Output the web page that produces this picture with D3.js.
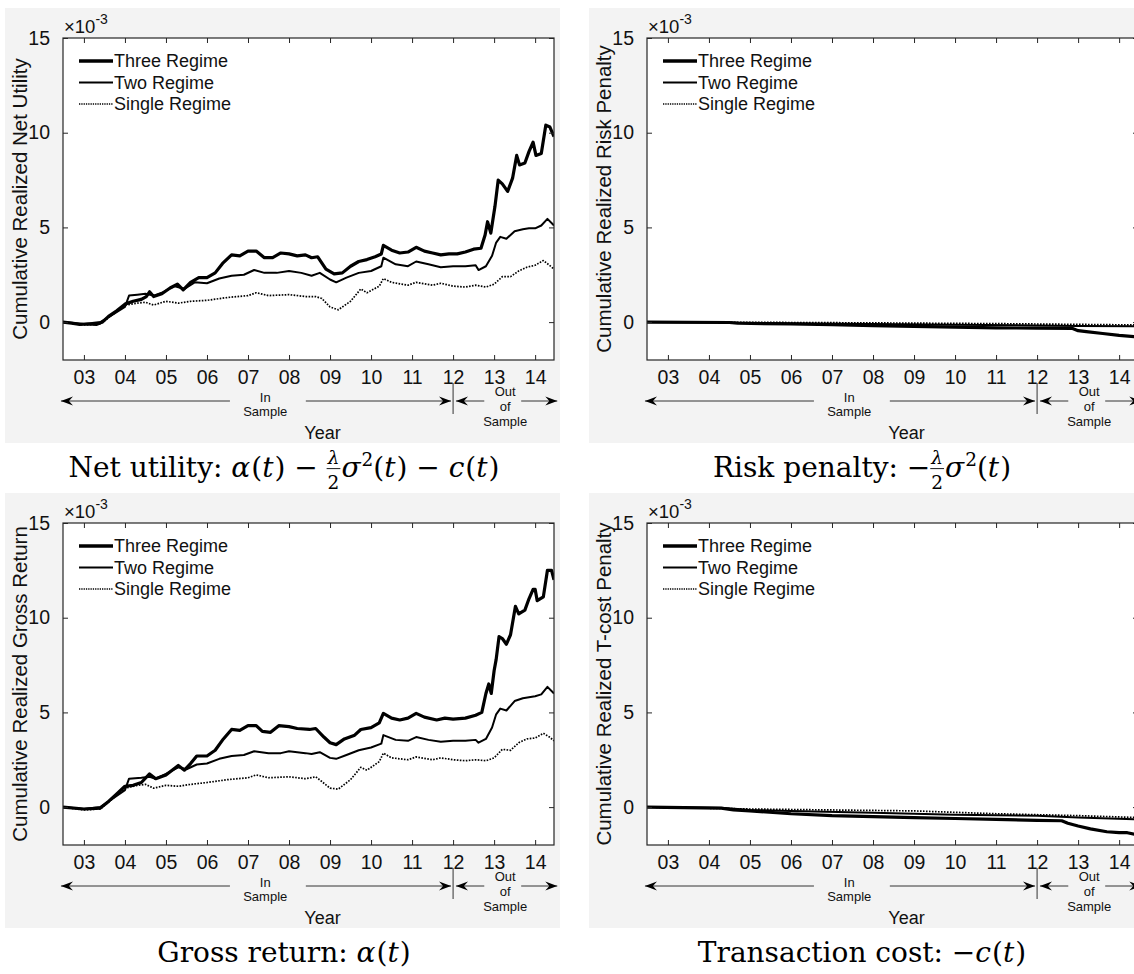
<!DOCTYPE html>
<html>
<head>
<meta charset="utf-8">
<script src="https://cdn.jsdelivr.net/npm/d3@7"></script>
<style>
  body { margin: 0; background: #fff; }
  text { font-family: "Liberation Sans", Arial, sans-serif; white-space: pre; }
  .cap text { font-family: "DejaVu Serif", "Liberation Serif", serif; }
</style>
</head>
<body>
<svg id="fig" width="1134" height="974"></svg>
<script>
// ---- data: [year, value (x1e-3)] ----
const netThree = [[2002.49,0],[2002.7,-0.05],[2002.9,-0.12],[2003.1,-0.1],[2003.3,-0.12],[2003.45,0.0],[2003.6,0.3],[2003.8,0.6],[2004.0,0.95],[2004.2,1.1],[2004.4,1.2],[2004.52,1.35],[2004.6,1.6],[2004.7,1.35],[2004.9,1.5],[2005.1,1.8],[2005.28,2.0],[2005.42,1.7],[2005.6,2.1],[2005.8,2.35],[2006.0,2.35],[2006.2,2.6],[2006.38,3.1],[2006.6,3.55],[2006.8,3.5],[2007.0,3.75],[2007.2,3.75],[2007.4,3.4],[2007.6,3.4],[2007.8,3.65],[2008.0,3.6],[2008.2,3.5],[2008.4,3.55],[2008.55,3.4],[2008.7,3.45],[2008.9,2.8],[2009.1,2.55],[2009.3,2.6],[2009.5,2.95],[2009.7,3.2],[2009.9,3.3],[2010.1,3.45],[2010.25,3.6],[2010.3,4.05],[2010.5,3.8],[2010.7,3.65],[2010.9,3.7],[2011.1,3.95],[2011.3,3.75],[2011.5,3.65],[2011.7,3.55],[2011.9,3.6],[2012.1,3.6],[2012.3,3.7],[2012.5,3.85],[2012.68,3.9],[2012.78,4.6],[2012.84,5.3],[2012.92,4.7],[2013.02,6.1],[2013.1,7.5],[2013.2,7.3],[2013.33,6.9],[2013.45,7.6],[2013.55,8.8],[2013.62,8.3],[2013.75,8.4],[2013.85,9.0],[2013.95,9.5],[2014.02,8.8],[2014.15,8.9],[2014.26,10.4],[2014.36,10.3],[2014.46,9.8]];
const netTwo = [[2002.49,0],[2003.0,-0.1],[2003.4,0.0],[2003.7,0.4],[2004.0,0.8],[2004.1,1.4],[2004.3,1.45],[2004.5,1.5],[2004.7,1.4],[2004.9,1.55],[2005.2,1.9],[2005.45,1.75],[2005.7,2.1],[2006.0,2.05],[2006.3,2.3],[2006.6,2.45],[2006.9,2.5],[2007.15,2.75],[2007.4,2.6],[2007.7,2.6],[2008.0,2.7],[2008.3,2.6],[2008.55,2.45],[2008.75,2.6],[2009.0,2.25],[2009.15,2.1],[2009.4,2.35],[2009.7,2.6],[2010.0,2.7],[2010.25,2.95],[2010.3,3.4],[2010.6,3.05],[2010.9,2.95],[2011.1,3.2],[2011.4,3.05],[2011.7,2.9],[2012.0,2.95],[2012.3,2.95],[2012.55,3.0],[2012.62,2.75],[2012.8,2.95],[2012.95,3.5],[2013.05,4.2],[2013.15,4.5],[2013.3,4.4],[2013.5,4.8],[2013.7,4.9],[2013.85,4.95],[2014.0,4.95],[2014.15,5.1],[2014.3,5.45],[2014.46,5.1]];
const netSingle = [[2002.49,0],[2003.0,-0.15],[2003.4,-0.1],[2003.7,0.4],[2004.0,0.9],[2004.3,1.0],[2004.5,1.05],[2004.7,0.9],[2005.0,1.1],[2005.3,1.0],[2005.6,1.1],[2006.0,1.15],[2006.5,1.3],[2007.0,1.4],[2007.2,1.55],[2007.5,1.4],[2008.0,1.45],[2008.4,1.35],[2008.65,1.35],[2008.8,1.25],[2009.0,0.8],[2009.2,0.65],[2009.5,1.1],[2009.75,1.75],[2009.9,1.55],[2010.2,1.9],[2010.3,2.3],[2010.5,2.1],[2010.9,1.95],[2011.1,2.1],[2011.5,1.95],[2011.7,2.05],[2012.0,1.9],[2012.3,1.85],[2012.55,1.95],[2012.8,1.85],[2013.0,2.0],[2013.2,2.4],[2013.4,2.4],[2013.6,2.7],[2013.8,2.9],[2014.0,3.0],[2014.2,3.25],[2014.35,3.0],[2014.46,2.8]];

const riskThree = [[2002.49,0],[2004.5,-0.02],[2004.7,-0.06],[2006.0,-0.1],[2007.0,-0.14],[2008.0,-0.18],[2009.0,-0.22],[2010.0,-0.26],[2011.0,-0.3],[2012.0,-0.32],[2012.85,-0.33],[2013.0,-0.45],[2013.2,-0.5],[2013.6,-0.6],[2014.0,-0.7],[2014.46,-0.78]];
const riskTwo = [[2002.49,0],[2004.5,-0.02],[2006.0,-0.06],[2008.0,-0.1],[2010.0,-0.14],[2012.0,-0.18],[2013.0,-0.2],[2014.46,-0.22]];
const riskSingle = [[2002.49,0],[2005.0,-0.01],[2008.0,-0.04],[2011.0,-0.08],[2013.0,-0.12],[2014.46,-0.15]];

const grossThree = [[2002.49,0],[2003.0,-0.1],[2003.4,-0.05],[2003.6,0.3],[2003.8,0.7],[2004.0,1.1],[2004.2,1.15],[2004.4,1.3],[2004.6,1.75],[2004.75,1.5],[2005.0,1.7],[2005.3,2.2],[2005.45,1.95],[2005.6,2.3],[2005.75,2.7],[2006.0,2.7],[2006.2,3.0],[2006.4,3.6],[2006.6,4.1],[2006.8,4.05],[2007.0,4.3],[2007.2,4.3],[2007.35,4.0],[2007.55,3.95],[2007.75,4.3],[2008.0,4.25],[2008.2,4.15],[2008.5,4.1],[2008.65,4.15],[2008.85,3.7],[2009.0,3.4],[2009.15,3.3],[2009.35,3.6],[2009.6,3.8],[2009.75,4.1],[2010.0,4.2],[2010.2,4.45],[2010.3,4.95],[2010.5,4.7],[2010.7,4.6],[2010.9,4.7],[2011.1,4.95],[2011.3,4.75],[2011.6,4.6],[2011.8,4.7],[2012.0,4.65],[2012.3,4.7],[2012.55,4.85],[2012.7,5.0],[2012.8,6.0],[2012.87,6.5],[2012.93,6.0],[2013.0,7.2],[2013.05,7.8],[2013.12,9.0],[2013.2,8.9],[2013.3,8.6],[2013.4,9.1],[2013.52,10.6],[2013.6,10.2],[2013.75,10.4],[2013.85,11.0],[2013.95,11.5],[2014.0,11.5],[2014.05,10.9],[2014.2,11.1],[2014.3,12.5],[2014.4,12.5],[2014.46,12.0]];
const grossTwo = [[2002.49,0],[2003.0,-0.1],[2003.4,0.0],[2003.7,0.45],[2004.0,0.9],[2004.1,1.5],[2004.4,1.55],[2004.6,1.6],[2004.75,1.5],[2005.0,1.75],[2005.3,2.1],[2005.5,2.0],[2005.75,2.25],[2006.0,2.3],[2006.3,2.55],[2006.6,2.7],[2006.9,2.75],[2007.15,2.95],[2007.5,2.85],[2007.8,2.85],[2008.0,2.95],[2008.4,2.85],[2008.55,2.8],[2008.75,2.9],[2009.0,2.6],[2009.15,2.55],[2009.4,2.75],[2009.7,3.0],[2010.0,3.15],[2010.25,3.35],[2010.3,3.8],[2010.6,3.55],[2010.9,3.5],[2011.1,3.7],[2011.4,3.55],[2011.7,3.45],[2012.0,3.5],[2012.3,3.5],[2012.55,3.55],[2012.62,3.4],[2012.8,3.6],[2012.95,4.2],[2013.05,4.9],[2013.15,5.2],[2013.3,5.1],[2013.5,5.6],[2013.7,5.75],[2013.85,5.8],[2014.0,5.85],[2014.15,5.95],[2014.3,6.35],[2014.46,6.0]];
const grossSingle = [[2002.49,0],[2003.0,-0.15],[2003.4,-0.1],[2003.7,0.45],[2004.0,1.0],[2004.3,1.15],[2004.5,1.2],[2004.7,1.0],[2005.0,1.15],[2005.3,1.1],[2005.6,1.2],[2006.0,1.3],[2006.5,1.45],[2007.0,1.55],[2007.2,1.7],[2007.5,1.55],[2008.0,1.6],[2008.4,1.5],[2008.65,1.6],[2008.8,1.35],[2009.0,1.0],[2009.2,0.95],[2009.5,1.45],[2009.75,2.1],[2009.9,1.95],[2010.2,2.4],[2010.3,2.85],[2010.5,2.6],[2010.9,2.5],[2011.1,2.65],[2011.5,2.5],[2011.7,2.6],[2012.0,2.5],[2012.3,2.45],[2012.55,2.5],[2012.8,2.45],[2013.0,2.6],[2013.2,3.05],[2013.4,3.0],[2013.6,3.4],[2013.8,3.6],[2014.0,3.65],[2014.2,3.9],[2014.35,3.7],[2014.46,3.5]];

const tcostThree = [[2002.49,0],[2004.3,-0.05],[2004.6,-0.15],[2005.0,-0.2],[2006.0,-0.35],[2007.0,-0.45],[2008.0,-0.5],[2009.0,-0.55],[2010.0,-0.6],[2011.0,-0.65],[2012.0,-0.7],[2012.6,-0.72],[2012.75,-0.85],[2013.0,-1.0],[2013.3,-1.15],[2013.7,-1.3],[2014.0,-1.35],[2014.2,-1.35],[2014.46,-1.48]];
const tcostTwo = [[2002.49,0],[2004.4,-0.05],[2005.0,-0.15],[2006.0,-0.2],[2008.0,-0.3],[2010.0,-0.4],[2012.0,-0.45],[2013.0,-0.55],[2014.46,-0.65]];
const tcostSingle = [[2002.49,0],[2005.0,-0.1],[2007.0,-0.15],[2009.0,-0.2],[2011.0,-0.35],[2013.0,-0.45],[2014.46,-0.55]];

const seriesNames = ["Three Regime", "Two Regime", "Single Regime"];
const yearTicks = [2003, 2004, 2005, 2006, 2007, 2008, 2009, 2010, 2011, 2012, 2013, 2014];
const yTicks = [0, 5, 10, 15];
const yLabels = ["Cumulative Realized Net Utility", "Cumulative Realized Risk Penalty",
                 "Cumulative Realized Gross Return", "Cumulative Realized T-cost Penalty"];

// caption pieces (i = italic, sup = superscript, frac = [num, den])
const capNet = [{s:"Net utility: "},{s:"α",i:1},{s:"("},{s:"t",i:1},{s:")"},{s:" − "},{frac:["λ","2"]},
  {s:"σ",i:1},{s:"2",sup:1},{s:"("},{s:"t",i:1},{s:")"},{s:" − "},{s:"c",i:1},{s:"("},{s:"t",i:1},{s:")"}];
const capRisk = [{s:"Risk penalty: "},{s:"−"},{frac:["λ","2"]},{s:"σ",i:1},{s:"2",sup:1},{s:"("},{s:"t",i:1},{s:")"}];
const capGross = [{s:"Gross return: "},{s:"α",i:1},{s:"("},{s:"t",i:1},{s:")"}];
const capTcost = [{s:"Transaction cost: "},{s:"−"},{s:"c",i:1},{s:"("},{s:"t",i:1},{s:")"}];

const panels = [
  { col: 0, row: 0, ylabel: yLabels[0], series: [netThree, netTwo, netSingle], caption: capNet },
  { col: 1, row: 0, ylabel: yLabels[1], series: [riskThree, riskTwo, riskSingle], caption: capRisk },
  { col: 0, row: 1, ylabel: yLabels[2], series: [grossThree, grossTwo, grossSingle], caption: capGross },
  { col: 1, row: 1, ylabel: yLabels[3], series: [tcostThree, tcostTwo, tcostSingle], caption: capTcost }
];

// ---- layout ----
const colX = [63, 647];
const rowY = [38, 523];
const capX = [284, 862];
const W = 491, H = 322;
const styles = [
  { w: 3.2, dash: null },
  { w: 2.0, dash: null },
  { w: 1.7, dash: "1.6,1.4" }
];

const svg = d3.select("#fig");
svg.append("rect").attr("width", 1134).attr("height", 974).attr("fill", "#fff");

const x = d3.scaleLinear().domain([2002.49, 2014.46]).range([0, W]);
const y = d3.scaleLinear().domain([-2, 15]).range([H, 0]);
const line = d3.line().x(d => x(d[0])).y(d => y(d[1]));

function arrowHead(g, px, py, dir) {
  g.append("path")
    .attr("d", `M${px},${py} L${px - dir * 12},${py - 4.5} L${px - dir * 8},${py} L${px - dir * 12},${py + 4.5} Z`)
    .attr("fill", "#000");
}

function drawCaption(parent, parts, cx, by, fs) {
  const g = parent.append("g").attr("class", "cap");
  let cur = 0;
  parts.forEach(p => {
    if (p.frac) {
      const sub = fs * 0.66;
      const n = g.append("text").attr("y", -fs * 0.47).attr("font-size", sub).attr("font-style", "italic").text(p.frac[0]);
      const d = g.append("text").attr("y", fs * 0.44).attr("font-size", sub).text(p.frac[1]);
      const wn = n.node().getComputedTextLength(), wd = d.node().getComputedTextLength();
      const w = Math.max(wn, wd) + 2;
      n.attr("x", cur + (w - wn) / 2);
      d.attr("x", cur + (w - wd) / 2);
      g.append("line").attr("x1", cur).attr("x2", cur + w)
        .attr("y1", -fs * 0.3).attr("y2", -fs * 0.3).attr("stroke", "#000").attr("stroke-width", 0.9);
      cur += w + 1;
    } else {
      const t = g.append("text").attr("x", cur)
        .attr("y", p.sup ? -fs * 0.4 : 0)
        .attr("font-size", p.sup ? fs * 0.66 : fs)
        .attr("font-style", p.i ? "italic" : "normal")
        .text(p.s);
      cur += t.node().getComputedTextLength() + (p.i ? 1 : 0);
    }
  });
  g.attr("transform", `translate(${cx - cur / 2},${by})`);
}

panels.forEach((p, idx) => {
  const x0 = colX[p.col], y0 = rowY[p.row];

  // figure background
  svg.append("rect")
    .attr("x", x0 - 58).attr("y", y0 - 30)
    .attr("width", 555).attr("height", 435)
    .attr("fill", "#f3f3f3");

  const g = svg.append("g").attr("transform", `translate(${x0},${y0})`);
  g.append("rect").attr("width", W).attr("height", H).attr("fill", "#fff");

  g.append("clipPath").attr("id", "clip" + idx)
    .append("rect").attr("width", W).attr("height", H);

  // lines (single first so the thick line sits on top)
  const lines = g.append("g").attr("clip-path", `url(#clip${idx})`);
  [2, 1, 0].forEach(k => {
    lines.append("path")
      .datum(p.series[k])
      .attr("d", line)
      .attr("fill", "none")
      .attr("stroke", "#000")
      .attr("stroke-width", styles[k].w)
      .attr("stroke-linejoin", "round")
      .attr("stroke-dasharray", styles[k].dash);
  });

  // axes (box with inward ticks)
  g.append("g").attr("transform", `translate(0,${H})`)
    .call(d3.axisBottom(x).tickValues(yearTicks).tickSizeInner(-5).tickSizeOuter(0)
      .tickFormat(d => String(d % 100).padStart(2, "0")).tickPadding(10));
  g.append("g")
    .call(d3.axisTop(x).tickValues(yearTicks).tickSizeInner(-5).tickSizeOuter(0).tickFormat(""));
  g.append("g")
    .call(d3.axisLeft(y).tickValues(yTicks).tickSizeInner(-5).tickSizeOuter(0).tickPadding(13));
  g.append("g").attr("transform", `translate(${W},0)`)
    .call(d3.axisRight(y).tickValues(yTicks).tickSizeInner(-5).tickSizeOuter(0).tickFormat(""));
  g.selectAll(".domain").remove();
  g.selectAll(".tick line").attr("stroke", "#262626");
  g.selectAll(".tick text").attr("font-size", 19.5).attr("fill", "#111")
    .attr("font-family", "Liberation Sans, Arial, sans-serif");
  g.append("rect").attr("width", W).attr("height", H)
    .attr("fill", "none").attr("stroke", "#262626").attr("stroke-width", 1.2);

  // exponent
  const ex = g.append("text").attr("x", 1).attr("y", -5).attr("font-size", 18.5).attr("fill", "#111");
  ex.append("tspan").text("×10");
  ex.append("tspan").attr("dy", -9).attr("font-size", 14).text("-3");

  // y label
  g.append("text")
    .attr("transform", `translate(-44,${H / 2}) rotate(-90)`)
    .attr("text-anchor", "middle").attr("dominant-baseline", "central")
    .attr("font-size", 20.5).attr("fill", "#111")
    .text(p.ylabel);

  // legend
  const lg = g.append("g").attr("transform", "translate(16,23)");
  seriesNames.forEach((name, k) => {
    const ly = k * 21.5;
    lg.append("line").attr("x1", 0).attr("x2", 34).attr("y1", ly).attr("y2", ly)
      .attr("stroke", "#000").attr("stroke-width", [3.6, 2, 1.4][k])
      .attr("stroke-dasharray", k === 2 ? "1.3,1" : null);
    lg.append("text").attr("x", 35).attr("y", ly).attr("dominant-baseline", "central")
      .attr("font-size", 18).attr("fill", "#111").text(name);
  });

  // in-sample / out-of-sample arrows
  const ay = H + 41;
  const ann = g.append("g").attr("stroke", "#333").attr("stroke-width", 1);
  ann.append("line").attr("x1", x(2002.44)).attr("x2", x(2006.56)).attr("y1", ay).attr("y2", ay);
  ann.append("line").attr("x1", x(2008.41)).attr("x2", x(2011.95)).attr("y1", ay).attr("y2", ay);
  ann.append("line").attr("x1", x(2012.07)).attr("x2", x(2012.76)).attr("y1", ay).attr("y2", ay);
  ann.append("line").attr("x1", x(2013.66)).attr("x2", x(2014.54)).attr("y1", ay).attr("y2", ay);
  ann.append("line").attr("x1", x(2012)).attr("x2", x(2012)).attr("y1", H + 23).attr("y2", H + 54);
  arrowHead(g, x(2002.44), ay, -1);
  arrowHead(g, x(2011.95), ay, 1);
  arrowHead(g, x(2012.07), ay, -1);
  arrowHead(g, x(2014.54), ay, 1);

  const smallText = (tx, ty, s) => g.append("text").attr("x", tx).attr("y", ty)
    .attr("text-anchor", "middle").attr("dominant-baseline", "central")
    .attr("font-size", 13).attr("fill", "#111").text(s);
  smallText(x(2007.42), H + 37, "In");
  smallText(x(2007.42), H + 51, "Sample");
  smallText(x(2013.27), H + 31, "Out");
  smallText(x(2013.27), H + 46, "of");
  smallText(x(2013.27), H + 61, "Sample");

  g.append("text").attr("x", W / 2 + 14).attr("y", H + 73)
    .attr("text-anchor", "middle").attr("dominant-baseline", "central")
    .attr("font-size", 18).attr("fill", "#111").text("Year");

  drawCaption(svg, p.caption, capX[p.col], y0 + H + 117, 28);
});
</script>
</body>
</html>
